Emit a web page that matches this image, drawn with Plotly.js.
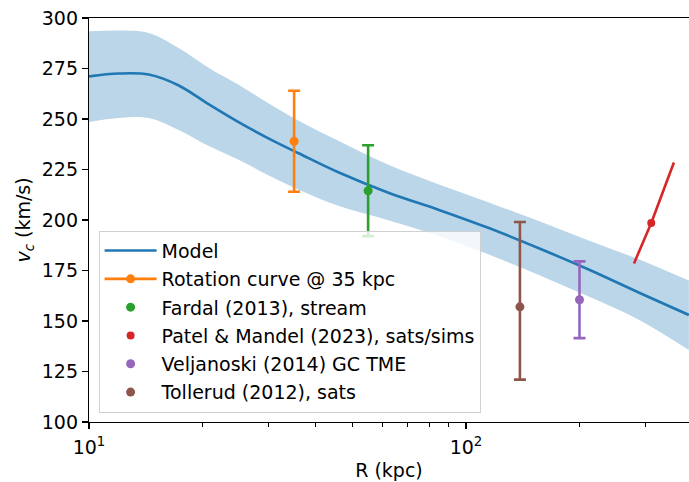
<!DOCTYPE html>
<html>
<head>
<meta charset="utf-8">
<script src="https://cdn.plot.ly/plotly-3.0.1.min.js"></script>
<style>
  html, body { margin: 0; padding: 0; background: #fff; overflow: hidden; }
  #chart { width: 689px; height: 482px; }
</style>
</head>
<body>
<div id="chart"></div>
<script>
// Model circular-velocity curve with its uncertainty band (kpc, km/s)
const modelR     = [10, 12.0, 14.4, 17.3, 20.8, 25, 30, 36.1, 46, 62.5, 84.8, 115, 156, 211.5, 288, 390];
const modelV     = [271.1, 272.5, 272.0, 266.6, 257.2, 248.3, 240.3, 232.9, 223.5, 213.4, 205.0, 196.0, 186.0, 175.5, 164.0, 153.0];
const modelUpper = [293.4, 293.8, 292.6, 285.1, 275.2, 266.8, 257.7, 249.0, 239.1, 227.2, 217.6, 208.7, 199.5, 189.9, 180.4, 170.0];
const modelLower = [248.5, 250.5, 250.5, 244.6, 236.6, 229.7, 222.0, 214.9, 206.9, 199.8, 192.1, 182.9, 172.8, 162.1, 150.5, 135.6];

// Observational constraints
const rotR = [35];    const rotV = [239];    const rotErr = [25];
const fardalR = [55]; const fardalV = [214.5]; const fardalErr = [22.5];
const patelR = [279, 310, 356]; const patelV = [178.5, 198.5, 228.5];
const patelPointR = [310]; const patelPointV = [198.5];
const veljR = [200];  const veljV = [160.5]; const veljErr = [19];
const tollR = [139];  const tollV = [157];   const tollErrPlus = [42]; const tollErrMinus = [36];

const labels = [
  'Model',
  'Rotation curve @ 35 kpc',
  'Fardal (2013), stream',
  'Patel & Mandel (2023), sats/sims',
  'Veljanoski (2014) GC TME',
  'Tollerud (2012), sats'
];

const C = ['#1f77b4', '#ff7f0e', '#2ca02c', '#d62728', '#9467bd', '#8c564b'];

function errPoint(x, y, errP, errM, color, name, group, mode) {
  const e = { type: 'data', array: errP, visible: true, color: color, thickness: 2.6, width: 6 };
  if (errM) { e.symmetric = false; e.arrayminus = errM; }
  return {
    x: x, y: y, name: name, legendgroup: group, type: 'scatter',
    mode: mode || 'markers',
    marker: { color: color, size: 9 },
    line: { color: color, width: 2.6 },
    error_y: e
  };
}

const traces = [
  { x: modelR, y: modelLower, type: 'scatter', mode: 'lines', line: { width: 0, shape: 'spline', smoothing: 1 },
    showlegend: false, hoverinfo: 'skip' },
  { x: modelR, y: modelUpper, type: 'scatter', mode: 'lines', line: { width: 0, shape: 'spline', smoothing: 1 },
    fill: 'tonexty', fillcolor: 'rgba(31,119,180,0.3)', showlegend: false, hoverinfo: 'skip' },
  { x: modelR, y: modelV, type: 'scatter', mode: 'lines', name: labels[0], legendgroup: 'g0',
    line: { color: C[0], width: 2.6, shape: 'spline', smoothing: 1 } },
  errPoint(rotR, rotV, rotErr, null, C[1], labels[1], 'g1', 'lines+markers'),
  errPoint(fardalR, fardalV, fardalErr, null, C[2], labels[2], 'g2'),
  { x: patelR, y: patelV, type: 'scatter', mode: 'lines', line: { color: C[3], width: 2.6 },
    showlegend: false, legendgroup: 'g3' },
  { x: patelPointR, y: patelPointV, type: 'scatter', mode: 'markers', name: labels[3], legendgroup: 'g3',
    marker: { color: C[3], size: 8 } },
  errPoint(veljR, veljV, veljErr, null, C[4], labels[4], 'g4'),
  errPoint(tollR, tollV, tollErrPlus, tollErrMinus, C[5], labels[5], 'g5')
];

const font = { family: 'DejaVu Sans, sans-serif', size: 19, color: '#000' };

const layout = {
  width: 689, height: 482,
  margin: { l: 89, r: 0, t: 18, b: 60, pad: 0 },
  paper_bgcolor: '#fff', plot_bgcolor: '#fff',
  font: font,
  showlegend: true,
  legend: {
    x: 0.016, y: 0.023, xanchor: 'left', yanchor: 'bottom',
    bgcolor: 'rgba(255,255,255,0.8)', bordercolor: '#d0d0d0', borderwidth: 1,
    font: font, tracegroupgap: 0.6, itemwidth: 52
  },
  xaxis: {
    type: 'log', range: [1, Math.log10(390.4)],
    showgrid: false, zeroline: false,
    showline: true, linecolor: '#000', linewidth: 1.2, mirror: true,
    ticks: 'outside', ticklen: 6, tickwidth: 1.2, tickcolor: '#000',
    ticklabelstandoff: 2,
    tickvals: [10, 100], ticktext: ['10<sup>1</sup>', '10<sup>2</sup>'],
    minor: { tickvals: [20, 30, 40, 50, 60, 70, 80, 90, 200, 300], ticks: 'outside', ticklen: 3.5, tickwidth: 1, tickcolor: '#000' },
    title: { text: 'R (kpc)', font: font, standoff: 6 },
    automargin: false
  },
  yaxis: {
    range: [100, 300],
    showgrid: false, zeroline: false,
    showline: true, linecolor: '#000', linewidth: 1.2,
    ticks: 'outside', ticklen: 6, tickwidth: 1.2, tickcolor: '#000',
    tickvals: [100, 125, 150, 175, 200, 225, 250, 275, 300],
    title: { text: '<i>v</i><sub><i>c</i></sub> (km/s)', font: font, standoff: 6 },
    automargin: false
  }
};

Plotly.newPlot('chart', traces, layout, { staticPlot: true, displayModeBar: false });
</script>
</body>
</html>
